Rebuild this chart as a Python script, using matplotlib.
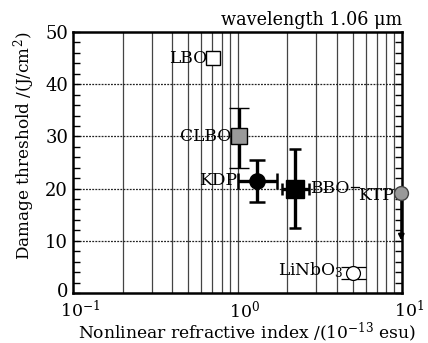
import numpy as np
import matplotlib
matplotlib.use('Agg')
from matplotlib import pyplot as plt
from matplotlib.transforms import ScaledTranslation

# crystal data: nonlinear refractive index (1e-13 esu) vs damage threshold (J/cm^2)
lbo_x, lbo_y = 0.71, 45.0
clbo_x, clbo_y = 1.02, 30.0
clbo_yerr = [[6.0], [5.5]]
kdp_x, kdp_y = 1.31, 21.5
kdp_xerr = [[0.31], [0.43]]
kdp_yerr = 4.0
bbo_x, bbo_y = 2.24, 20.0
bbo_xerr = [[0.38], [0.48]]
bbo_yerr = 7.5
ktp_x, ktp_y = 9.9, 19.2
ktp_ylow = 9.5
linbo_x, linbo_y = 5.0, 3.8
linbo_yerr = 1.2

plt.rcParams['font.family'] = 'DejaVu Serif'
plt.rcParams['mathtext.fontset'] = 'dejavuserif'

fig = plt.figure(figsize=(4.28, 3.43), dpi=100)
ax = fig.add_axes([0.1706, 0.1458, 0.7687, 0.7609])
ax.set_xscale('log')
ax.set_xlim(0.1, 10)
ax.set_ylim(0, 50)

# grid: solid verticals at the minor log positions, dotted horizontals
minors = [m * d for d in (0.1, 1.0) for m in range(2, 10)] + [1.0]
for xv in minors:
    ax.axvline(xv, color='#444444', lw=0.9, zorder=0)
for yv in (10, 20, 30, 40):
    ax.axhline(yv, color='#222222', lw=0.9, ls=(0, (1.5, 1.0)), zorder=0)

ax.set_xticks([0.1, 1, 10])
ax.set_xticklabels(['$10^{-1}$', '$10^{0}$', '$10^{1}$'])
ax.xaxis.set_minor_locator(matplotlib.ticker.NullLocator())
ax.tick_params(axis='x', length=0, labelsize=12.5, pad=5)
shift = ScaledTranslation(7 / 100, 0, fig.dpi_scale_trans)
for lab in ax.get_xticklabels():
    lab.set_transform(lab.get_transform() + shift)
ax.set_yticks([0, 10, 20, 30, 40, 50])
ax.set_yticks(np.arange(0, 51, 2), minor=True)
ax.tick_params(axis='y', which='both', direction='in', left=True, right=True,
               labelsize=13, length=5, width=1.0)
# nudge the "0" label up so it clears the 10^-1 label
ylab0 = ax.get_yticklabels()[0]
ylab0.set_transform(ylab0.get_transform() + ScaledTranslation(0, 3 / 100, fig.dpi_scale_trans))
for sp in ax.spines.values():
    sp.set_linewidth(1.8)

ax.set_xlabel('Nonlinear refractive index /(10$^{-13}$ esu)', fontsize=12.3)
ax.xaxis.set_label_coords(0.53, -0.106)
ax.set_ylabel('Damage threshold /(J/cm$^2$)', fontsize=12.2)
ax.yaxis.set_label_coords(-0.11, 0.563)

ekw = dict(ecolor='black', elinewidth=2.4, capthick=1.8, zorder=3)

# LBO
ax.plot(lbo_x, lbo_y, 's', ms=10, mfc='white', mec='black', mew=1.0, zorder=4)
ax.text(lbo_x * 0.92, lbo_y, 'LBO', ha='right', va='center', fontsize=12.3)

# CLBO
ax.errorbar(clbo_x, clbo_y, yerr=clbo_yerr, fmt='s', ms=11, mfc='#999999',
            mec='black', mew=1.0, capsize=7, **ekw)
ax.text(clbo_x * 0.9, clbo_y, 'CLBO', ha='right', va='center', fontsize=12.3)

# KDP
ax.errorbar(kdp_x, kdp_y, xerr=kdp_xerr, yerr=kdp_yerr, fmt='o', ms=11,
            mfc='black', mec='black', capsize=6, **ekw)
ax.text(0.99, kdp_y, 'KDP', ha='right', va='center', fontsize=12.3)

# BBO
ax.errorbar(bbo_x, bbo_y, xerr=bbo_xerr, yerr=bbo_yerr, fmt='s', ms=13,
            mfc='black', mec='black', capsize=4, **ekw)
ax.text(bbo_x * 1.24, bbo_y, 'BBO', ha='left', va='center', fontsize=12.3)

# KTP with downward arrow along the right axis
ax.annotate('', xy=(ktp_x, ktp_ylow), xytext=(ktp_x, ktp_y),
            arrowprops=dict(arrowstyle='-|>', color='black', lw=1.6,
                            mutation_scale=8), annotation_clip=False, zorder=3)
ax.plot(ktp_x, ktp_y, 'o', ms=10, mfc='#999999', mec='#444444', mew=1.0,
        clip_on=False, zorder=5)
ax.plot([4.9, 5.45], [20.3, 20.3], color='black', lw=0.9, zorder=3)
ax.text(8.95, ktp_y - 0.6, 'KTP', ha='right', va='center', fontsize=12.3)

# LiNbO3
ax.errorbar(linbo_x, linbo_y, yerr=linbo_yerr, fmt='o', ms=10, mfc='white',
            mec='black', mew=0.9, ecolor='black', elinewidth=0.9, capsize=9,
            capthick=0.9, zorder=3)
ax.text(linbo_x * 0.88, linbo_y + 0.5, 'LiNbO$_3$', ha='right', va='center',
        fontsize=12.3)

ax.text(1.0, 1.01, 'wavelength 1.06 μm', transform=ax.transAxes, ha='right',
        va='bottom', fontsize=12.7)

fig.savefig('out.png', dpi=100)
